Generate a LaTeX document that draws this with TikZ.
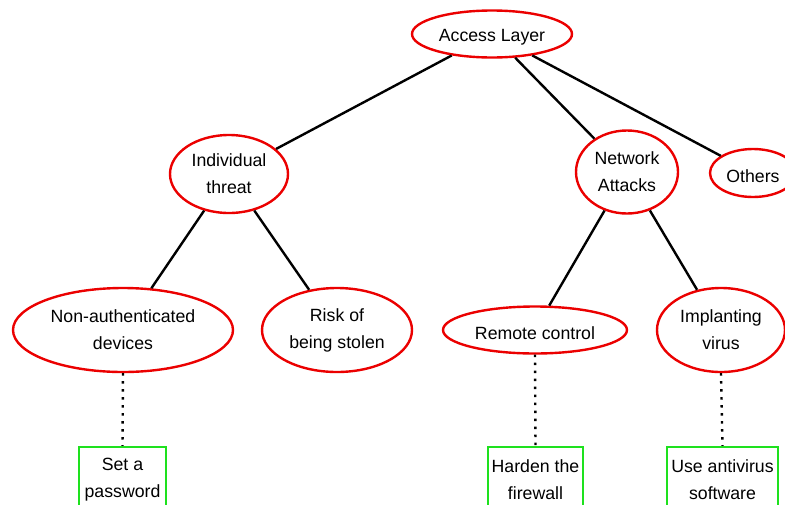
\documentclass[tikz,border=0pt]{standalone}
\usepackage{fontspec}
\setmainfont{Liberation Sans}
\usetikzlibrary{shapes.geometric}
\definecolor{threatred}{RGB}{235,0,0}
\definecolor{fixgreen}{RGB}{30,225,30}
\tikzset{
  labelfont/.style={font=\fontsize{17.7}{27}\selectfont,
    execute at begin node={\rule{0pt}{18.8pt}}},
  threat/.style={ellipse, draw=threatred, line width=2.4pt, inner sep=0pt,
    align=center, labelfont},
  remedy/.style={rectangle, draw=fixgreen, line width=2.4pt, inner sep=0pt,
    align=center, minimum height=66pt, labelfont},
  link/.style={line width=2.4pt, black},
  fixlink/.style={line width=2.4pt, black, dash pattern=on 2.4pt off 5.6pt}
}
\begin{document}
\begin{tikzpicture}[x=1pt,y=-1pt]
\useasboundingbox (0,0) rectangle (785,504);
\clip (0,0) rectangle (785,504);
% top level
\node[threat, minimum width=160pt, minimum height=47pt] (root) at (492,34) {Access Layer};
% second level
\node[threat, minimum width=118pt, minimum height=78pt] (indiv) at (229,174) {Individual\\threat};
\node[threat, minimum width=102pt, minimum height=83pt] (net) at (627,172) {Network\\Attacks};
\node[threat, minimum width=86pt, minimum height=48pt] (other) at (753,173) {Others};
% third level
\node[threat, minimum width=220pt, minimum height=84pt] (nonauth) at (123,330) {Non-authenticated\\devices};
\node[threat, minimum width=150pt, minimum height=84pt] (stolen) at (337,330) {Risk of\\being stolen};
\node[threat, minimum width=184pt, minimum height=47pt] (remote) at (535,330) {Remote control};
\node[threat, minimum width=128pt, minimum height=84pt] (virus) at (721,330) {Implanting\\virus};
% countermeasures
\node[remedy, minimum width=87pt] (pwd) at (122.5,480) {Set a\\password};
\node[remedy, minimum width=95pt] (fw) at (535.5,480) {Harden the\\firewall};
\node[remedy, minimum width=111pt] (av) at (722.5,480) {Use antivirus\\software};
% tree edges
\draw[link] (root) -- (indiv);
\draw[link] (root) -- (net);
\draw[link] (root) -- (other);
\draw[link] (indiv) -- (nonauth);
\draw[link] (indiv) -- (stolen);
\draw[link] (net) -- (remote);
\draw[link] (net) -- (virus);
% countermeasure links
\draw[fixlink] (nonauth.south) -- (pwd.north);
\draw[fixlink] (remote.south) -- (fw.north);
\draw[fixlink] (virus.south) -- (av.north);
\end{tikzpicture}
\end{document}
